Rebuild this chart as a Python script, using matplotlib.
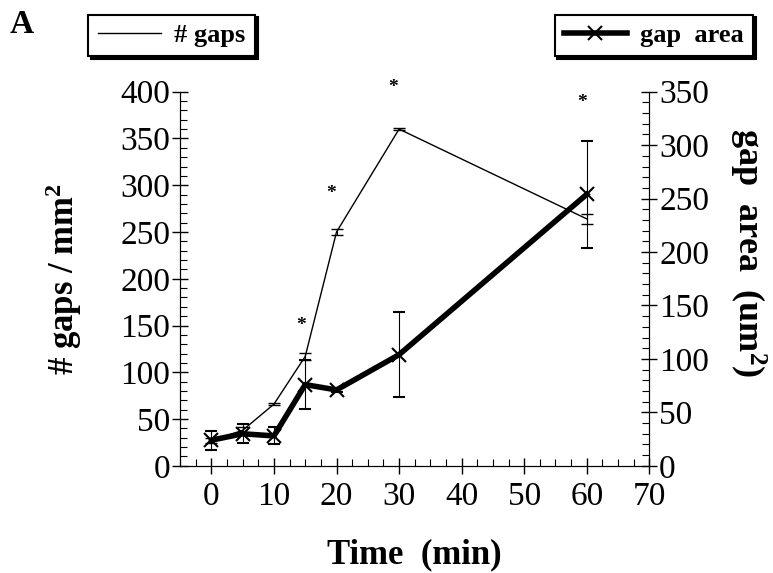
import numpy as np
import matplotlib.pyplot as plt
from matplotlib.ticker import MultipleLocator

plt.rcParams['font.family'] = ['Liberation Serif', 'DejaVu Serif']
plt.rcParams['mathtext.fontset'] = 'custom'
plt.rcParams['mathtext.rm'] = 'Liberation Serif'
plt.rcParams['mathtext.bf'] = 'Liberation Serif:bold'

# number of gaps per mm^2 (left axis)
t_gaps = [0, 5, 10, 15, 20, 30, 60]
gaps = [27, 38, 66, 117, 250, 360, 264]
gaps_err = [3, 4, 1, 4, 3, 1, 5]

# gap area in um^2 (right axis)
t_area = [0, 5, 10, 15, 20, 30, 60]
area = [24, 30, 28, 76, 71, 104, 254]
area_err = [9, 9, 8, 23, 2, 40, 50]

# significance stars (x, y in left-axis units)
star_x = [14.3, 19.2, 29.0, 59.3]
star_y = [150, 291, 404, 388]

fig = plt.figure(figsize=(7.73, 5.73), dpi=100)
ax = fig.add_axes([0.233, 0.187, 0.607, 0.653])
ax2 = ax.twinx()

l1 = ax.errorbar(t_gaps, gaps, yerr=gaps_err, color='k', lw=1.0,
                 capsize=4, elinewidth=0.8, capthick=1.0, label='# gaps')
l2 = ax2.errorbar(t_area, area, yerr=area_err, color='k', lw=4.0,
                  marker='x', ms=10, mew=1.5, capsize=4, elinewidth=0.8,
                  capthick=1.0, label='gap area')

for sx, sy in zip(star_x, star_y):
    ax.text(sx, sy, '*', ha='center', va='center', fontsize=14,
            fontweight='bold', clip_on=False)

ax.set_xlim(-5, 70)
ax.set_ylim(0, 400)
ax2.set_ylim(0, 350)

ax.xaxis.set_major_locator(MultipleLocator(10))
ax.xaxis.set_minor_locator(MultipleLocator(2.5))
ax.yaxis.set_major_locator(MultipleLocator(50))
ax.yaxis.set_minor_locator(MultipleLocator(10))
ax2.yaxis.set_major_locator(MultipleLocator(50))
ax2.yaxis.set_minor_locator(MultipleLocator(10))

for a in (ax, ax2):
    a.spines['top'].set_visible(False)
    a.tick_params(which='major', direction='inout', length=12, width=1,
                  labelsize=24, pad=1)
    a.tick_params(which='minor', direction='in', length=5, width=0.8)
ax.tick_params(axis='x', which='major', pad=5)
ax.set_xticks([0, 10, 20, 30, 40, 50, 60, 70])

ax.set_xlabel('Time  (min)', fontsize=25, fontweight='bold', labelpad=19)
ax.set_ylabel('# gaps / mm$\\mathbf{^2}$', fontsize=25, fontweight='bold',
              labelpad=26)
ax2.set_ylabel('gap  area  (um$\\mathbf{^2}$)', fontsize=26,
               fontweight='bold', rotation=270)
ax2.yaxis.set_label_coords(1.253, 0.57)

fig.text(0.012, 0.958, 'A', fontsize=24, fontweight='bold', va='center')

legend_kw = dict(loc='center', fancybox=False,
                 shadow={'color': 'k', 'alpha': 1}, edgecolor='k',
                 framealpha=1, handlelength=2.4, handletextpad=0.5,
                 borderpad=0.35, prop={'weight': 'bold', 'size': 19})
leg1 = fig.legend([l1.lines[0]], ['# gaps'],
                  bbox_to_anchor=(0.222, 0.938), **legend_kw)
leg2 = fig.legend([l2.lines[0]], ['gap  area'],
                  bbox_to_anchor=(0.846, 0.938), **legend_kw)
for leg in (leg1, leg2):
    leg.get_frame().set_linewidth(1.5)

fig.savefig('out.png', dpi=100)
